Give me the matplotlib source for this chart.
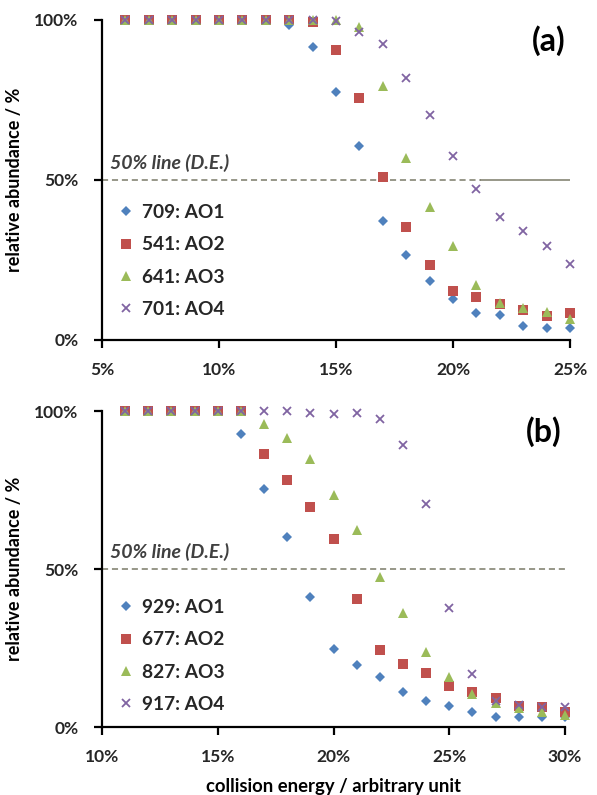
import matplotlib
matplotlib.use("Agg")
import matplotlib.pyplot as plt

plt.rcParams['font.family'] = ['Lato', 'DejaVu Sans']

# ---------------- data ----------------
energy_a = [6, 7, 8, 9, 10, 11, 12, 13, 14, 15, 16, 17, 18, 19, 20, 21, 22, 23, 24, 25]
a_ao1 = [100, 100, 100, 100, 100, 100, 100, 98.5, 91.5, 77.6, 60.7, 37.3, 26.6, 18.4, 12.7, 8.5, 7.7, 4.5, 3.6, 3.6]
a_ao2 = [100, 100, 100, 100, 100, 100, 100, 100, 99.5, 90.6, 75.5, 50.8, 35.4, 23.4, 15.3, 13.5, 11.2, 9.4, 7.6, 8.5]
a_ao3 = [100, 100, 100, 100, 100, 100, 100, 100, 100, 100, 97.9, 79.4, 57.0, 41.5, 29.5, 17.2, 11.5, 9.9, 8.9, 6.6]
a_ao4 = [100, 100, 100, 100, 100, 100, 100, 100, 100, 99.7, 96.3, 92.4, 81.8, 70.3, 57.6, 47.2, 38.5, 34.2, 29.4, 23.75]
labels_a = ["709: AO1", "541: AO2", "641: AO3", "701: AO4"]

energy_b = [11, 12, 13, 14, 15, 16, 17, 18, 19, 20, 21, 22, 23, 24, 25, 26, 27, 28, 29, 30]
b_ao1 = [100, 100, 100, 100, 100, 92.6, 75.3, 60.0, 41.0, 24.6, 19.6, 15.7, 11.0, 8.3, 6.8, 4.9, 3.3, 3.3, 3.3, 3.1]
b_ao2 = [100, 100, 100, 100, 100, 100, 86.4, 78.1, 69.5, 59.5, 40.5, 24.4, 19.9, 17.2, 13.0, 11.2, 9.1, 6.7, 6.4, 4.9]
b_ao3 = [100, 100, 100, 100, 100, 100, 96.0, 91.3, 84.8, 73.5, 62.4, 47.4, 36.0, 23.7, 15.7, 10.5, 7.5, 5.9, 4.9, 3.8]
b_ao4 = [100, 100, 100, 100, 100, 100, 100, 100, 99.4, 99.1, 99.4, 97.5, 89.1, 70.6, 37.6, 16.8, 8.2, 7.0, 6.4, 6.4]
labels_b = ["929: AO1", "677: AO2", "827: AO3", "917: AO4"]

xticks_a = [5, 10, 15, 20, 25]
xticks_b = [10, 15, 20, 25, 30]
yticks = [0, 50, 100]

# ---------------- style ----------------
colors = ['#4F81BD', '#C0504D', '#9BBB59', '#8064A2']
markers = ['D', 's', '^', 'x']
msizes = [5.5, 6.5, 6.5, 6.0]

fig = plt.figure(figsize=(5.97, 7.95), dpi=100)
ax_a = fig.add_axes([102/597, 1-340/795, 468/597, 320/795])
ax_b = fig.add_axes([102/597, 1-727/795, 463/597, 316/795])


def style(ax, energy, series, labels, xticks, xlim, tag, dash_split, leg_y):
    for y, lab, c, m, ms in zip(series, labels, colors, markers, msizes):
        kw = dict(linestyle='none', marker=m, markersize=ms, color=c, label=lab, clip_on=False)
        if m == 'x':
            kw['markeredgewidth'] = 1.3
        else:
            kw['markeredgewidth'] = 0
        ax.plot(energy, y, **kw)
    ax.set_xlim(*xlim)
    ax.set_ylim(0, 100)
    ax.set_xticks(xticks)
    ax.set_xticklabels([f"{t}%" for t in xticks])
    ax.set_yticks(yticks)
    ax.set_yticklabels([f"{t}%" for t in yticks])
    for s in ['top', 'right']:
        ax.spines[s].set_visible(False)
    for s in ['left', 'bottom']:
        ax.spines[s].set_linewidth(1.6)
    ax.tick_params(direction='out', length=6, width=1.6, labelsize=12.5)
    ax.tick_params(axis='y', pad=11)
    ax.tick_params(axis='x', pad=10)
    for t in ax.get_xticklabels() + ax.get_yticklabels():
        t.set_fontweight('bold')
        t.set_color('#262626')
    # 50% line
    ax.plot([xlim[0], dash_split], [50, 50], color='#7A7A68', linestyle=(0, (4, 2.5)), linewidth=1.1, zorder=1)
    if dash_split < xlim[1]:
        ax.plot([dash_split, xlim[1]], [50, 50], color='#7A7A68', linestyle='-', linewidth=1.1, zorder=1)
    ax.text(xlim[0] + 0.35, 52.5, "50% line (D.E.)", fontsize=14, style='italic',
            fontweight='bold', color='#404040', ha='left', va='bottom')
    ax.text(0.955, 0.935, tag, transform=ax.transAxes, fontsize=23, fontweight='bold',
            ha='center', va='center')
    ax.set_ylabel("relative abundance / %", fontsize=13, fontweight='bold', labelpad=8)
    leg = ax.legend(loc='upper left', bbox_to_anchor=(0.0, leg_y), frameon=False,
                    prop={'size': 13.8, 'weight': 'bold'}, handletextpad=0.25,
                    labelspacing=0.8, handlelength=1.15, borderaxespad=0.3)
    for t in leg.get_texts():
        t.set_color('#262626')


style(ax_a, energy_a, [a_ao1, a_ao2, a_ao3, a_ao4], labels_a, xticks_a, (5, 25), "(a)", 21.2, 0.467)
style(ax_b, energy_b, [b_ao1, b_ao2, b_ao3, b_ao4], labels_b, xticks_b, (10, 30), "(b)", 30, 0.447)
ax_b.set_xlabel("collision energy / arbitrary unit", fontsize=13.3, fontweight='bold', labelpad=9)

fig.savefig("out.png", dpi=100)
